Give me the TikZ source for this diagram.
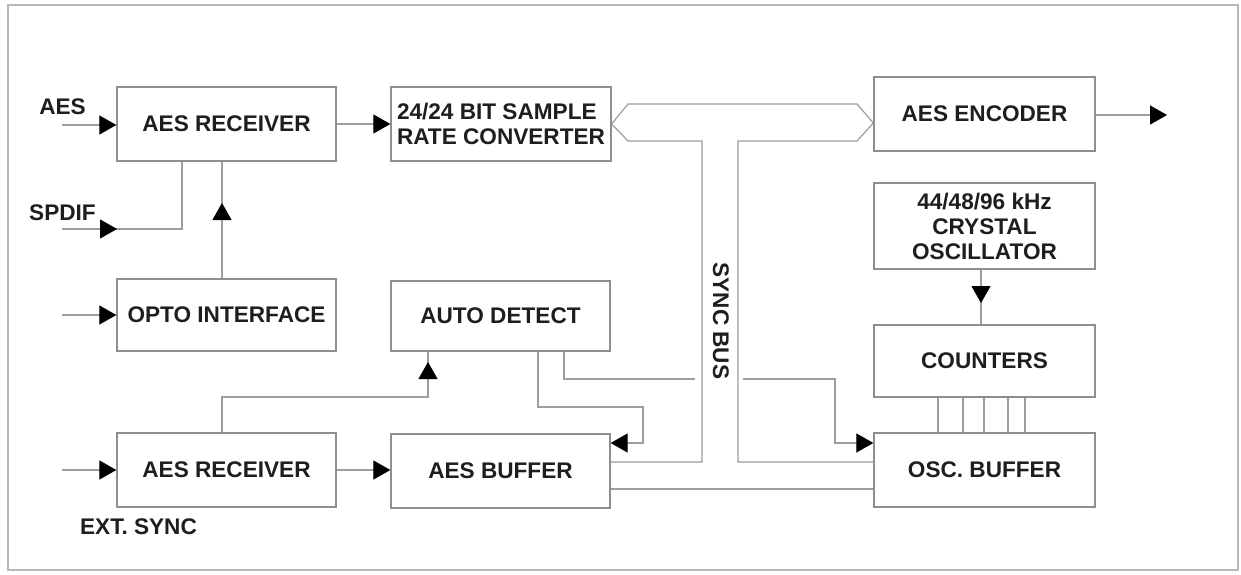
\documentclass[tikz,border=0pt]{standalone}
\usepackage{fontspec}
\setmainfont{Liberation Sans}
\usetikzlibrary{arrows.meta}
\definecolor{linegray}{HTML}{9E9E9E}
\definecolor{boxgray}{HTML}{8E8E8E}
\definecolor{framegray}{HTML}{B8B8B8}
\definecolor{txt}{HTML}{1E1E1E}
\begin{document}
\begin{tikzpicture}[x=1pt,y=-1pt,
  box/.style={draw=boxgray, line width=1.3pt, inner sep=0pt, align=center,
    text=txt, font=\bfseries\fontsize{22.6}{25}\selectfont},
  lbl/.style={inner sep=0pt, text=txt, font=\bfseries\fontsize{22.6}{25}\selectfont},
  wire/.style={draw=linegray, line width=1.2pt},
  arr/.style={-{Triangle[length=17pt,width=19pt,color=black,fill=black]}}]
\useasboundingbox[fill=white] (0,0) rectangle (1241,575);
\draw[framegray, line width=1.5pt] (8,5) rectangle (1238,570);
% boxes
\node[box, minimum width=219pt, minimum height=74pt] (rx1) at (226.5,124) {AES RECEIVER};
\node[box, minimum width=220pt, minimum height=74pt, align=left] (src) at (501,124) {24/24 BIT SAMPLE\\RATE CONVERTER};
\node[box, minimum width=221pt, minimum height=74pt] (enc) at (984.5,114) {AES ENCODER};
\node[box, minimum width=221pt, minimum height=86pt] (osc) at (984.5,226) {44/48/96 kHz\\CRYSTAL\\OSCILLATOR};
\node[box, minimum width=219pt, minimum height=72pt] (opto) at (226.5,315) {OPTO INTERFACE};
\node[box, minimum width=219pt, minimum height=70pt] (auto) at (500.5,316) {AUTO DETECT};
\node[box, minimum width=221pt, minimum height=72pt] (cnt) at (984.5,361) {COUNTERS};
\node[box, minimum width=219pt, minimum height=74pt] (rx2) at (226.5,470) {AES RECEIVER};
\node[box, minimum width=219pt, minimum height=74pt] (buf) at (500.5,471) {AES BUFFER};
\node[box, minimum width=221pt, minimum height=74pt] (oscbuf) at (984.5,470) {OSC. BUFFER};
% labels
\node[lbl] (laes) at (62.5,107) {AES};
\node[lbl] (lspdif) at (62.5,213) {SPDIF};
\node[lbl] (lext) at (138.5,527) {EXT. SYNC};
\node[lbl, rotate=-90] (lbus) at (721,321) {SYNC BUS};
% inputs
\coordinate (aesin) at (62,125);
\draw[wire,arr] (aesin) -- (aesin -| rx1.west);
\coordinate (spin) at (62,229);
\coordinate (sptip) at (117,229);
\coordinate (spx) at (182,229);
\draw[wire] (spin) -- (spx) -- (spx |- rx1.south);
\draw[wire,arr] (spin) -- (sptip);
\coordinate (optoin) at (62,315);
\draw[wire,arr] (optoin) -- (optoin -| opto.west);
\coordinate (rx2in) at (62,470);
\draw[wire,arr] (rx2in) -- (rx2in -| rx2.west);
% opto -> rx1
\coordinate (ov) at (222,203);
\draw[wire] (ov |- opto.north) -- (ov |- rx1.south);
\draw[wire,arr] (ov |- opto.north) -- (ov);
% rx1 -> src
\draw[wire,arr] (rx1.east) -- (rx1.east -| src.west);
% rx2 -> buf
\draw[wire,arr] (rx2.east) -- (rx2.east -| buf.west);
% rx2 -> auto detect
\coordinate (ra1) at (222,397);
\coordinate (ra2) at (428,397);
\coordinate (ratip) at (428,362);
\draw[wire] (ra1 |- rx2.north) -- (ra1) -- (ra2) -- (ra2 |- auto.south);
\draw[wire,arr] (ra2) -- (ratip);
% auto detect -> aes buffer
\coordinate (ab1) at (538,407);
\coordinate (ab2) at (643,407);
\coordinate (ab3) at (643,443);
\draw[wire,arr] (ab1 |- auto.south) -- (ab1) -- (ab2) -- (ab3) -- (ab3 -| buf.east);
% auto detect -> osc buffer
\coordinate (ao1) at (564,379);
\coordinate (ao2) at (695,379);
\coordinate (ao3) at (743,379);
\coordinate (ao4) at (835,379);
\coordinate (ao5) at (835,443);
\draw[wire] (ao1 |- auto.south) -- (ao1) -- (ao2);
\draw[wire,arr] (ao3) -- (ao4) -- (ao5) -- (ao5 -| oscbuf.west);
% aes buffer -> osc buffer
\coordinate (bo) at (610,489);
\draw[wire] (bo -| buf.east) -- (bo -| oscbuf.west);
% encoder output
\coordinate (encout) at (1167,115);
\draw[wire,arr] (enc.east |- encout) -- (encout);
% oscillator -> counters
\coordinate (oc) at (981,303);
\draw[wire] (oc |- osc.south) -- (oc |- cnt.north);
\draw[wire,arr] (oc |- osc.south) -- (oc);
% counters -> osc buffer
\foreach \xx in {938,963,984,1008,1025}
  \draw[wire] (\xx,0 |- cnt.south) -- (\xx,0 |- oscbuf.north);
% bus
\coordinate (bl) at (612,124);
\coordinate (br) at (873,123);
\draw[wire] (src.east |- bl) -- (628,104) -- (857,104) -- (enc.west |- br);
\draw[wire] (src.east |- bl) -- (628,141) -- (702,141) -- (702,462) -- (buf.east |- 0,462);
\draw[wire] (enc.west |- br) -- (857,141) -- (738,141) -- (738,462) -- (oscbuf.west |- 0,462);
\end{tikzpicture}
\end{document}
